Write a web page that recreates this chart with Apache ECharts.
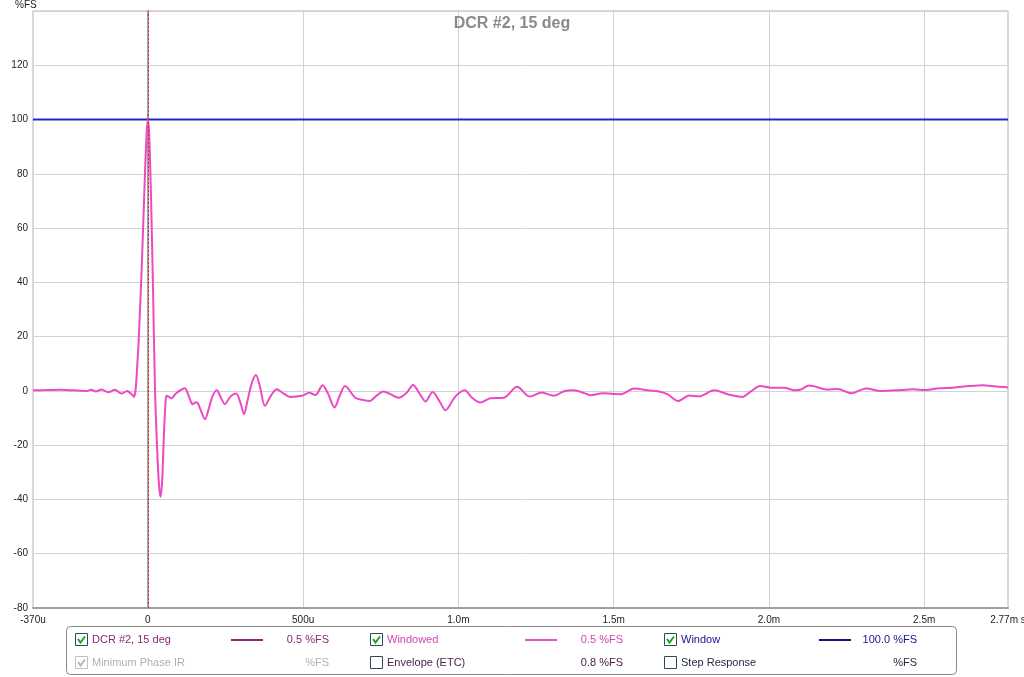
<!DOCTYPE html>
<html>
<head>
<meta charset="utf-8">
<script src="https://cdn.jsdelivr.net/npm/echarts@6/dist/echarts.min.js"></script>
<style>
html,body{margin:0;padding:0;background:#fff;}
#c{width:1024px;height:677px;}
</style>
</head>
<body>
<div id="c"></div>
<script>
// ---- data (time in microseconds, value in %FS) ----
var timeUs = [-370,-330,-284,-240,-198,-182,-168,-149,-128,-106,-85,-67,-50,-45,-40,-35,-30,-20,-10,-4,0,4,10,17,23,30,36,41,46,52,57,60,68,76,90,105,119,132,144,155,162,173,184,195,208,222,235,248,265,284,297,310,320,335,348,360,377,395,415,435,458,496,520,539,563,580,601,617,635,668,695,716,722,759,781,808,834,854,875,894,917,940,958,990,1020,1044,1071,1103,1146,1189,1230,1268,1307,1343,1372,1410,1426,1464,1523,1566,1609,1646,1673,1708,1743,1775,1824,1867,1915,1942,1972,2006,2049,2082,2103,2130,2189,2222,2265,2313,2361,2410,2464,2506,2549,2592,2646,2689,2732,2770];
var windowedFS = [0.25,0.3,0.4,0.2,0.0,0.4,-0.2,0.5,-0.5,0.4,-1.0,0.0,-1.5,-2.2,0,8,18,45,78,95,100,95,72,35,0,-22,-35,-39,-33,-15,-4,-1.8,-2.2,-2.7,-1,0.3,1.0,-2,-4.9,-4.2,-4.7,-8,-10.4,-7,-2,0.2,-2.5,-4.9,-2.2,-1.0,-4,-8.6,-4,3,5.9,2,-5.5,-2,0.6,-0.8,-2.2,-1.8,-0.7,-1.5,2.1,-1,-6.1,-2,1.8,-2.5,-3.4,-3.7,-3.2,-0.2,-1.2,-2.5,-0.6,2.2,-1,-3.9,-0.4,-4,-7.1,-2.1,0.2,-2.5,-4.3,-2.7,-2.5,1.5,-2.1,-0.6,-1.8,0,0.2,-1.0,-1.6,-0.9,-1.2,0.9,0.2,-0.2,-1.2,-3.7,-1.7,-2.0,0.2,-1.2,-2.2,-0.2,1.8,1.2,1.2,0.2,0.5,2.0,0.5,0.7,-0.9,0.9,0.0,0.2,0.6,0.3,1.0,1.2,1.8,2.1,1.6,1.3];
var windowTime = [-370, 2770];
var windowFS = [100, 100];
var xTickValues = [0, 500, 1000, 1500, 2000, 2500];
var xLabelValues = [-370, 0, 500, 1000, 1500, 2000, 2500, 2770];
var xLabelTexts = ['-370u', '0', '500u', '1.0m', '1.5m', '2.0m', '2.5m', '2.77m s'];
var titleText = 'DCR #2, 15 deg';
var yUnit = '%FS';

// legend table
var legendNames  = ['DCR #2, 15 deg', 'Windowed', 'Window', 'Minimum Phase IR', 'Envelope (ETC)', 'Step Response'];
var legendValues = ['0.5 %FS', '0.5 %FS', '100.0 %FS', '%FS', '0.8 %FS', '%FS'];
var legendChecked = [true, true, true, true, false, false];
var legendGreyed  = [false, false, false, true, false, false];
var legendTextColors = ['#8c2a74', '#d444b4', '#14148c', '#b0b0b0', '#4a2248', '#2a2a40'];
var legendLineColors = ['#8c2a74', '#e655c4', '#14148c', null, null, null];

var chart = echarts.init(document.getElementById('c'));

var windowedData = timeUs.map(function (t, i) { return [t, windowedFS[i]]; });
var windowData = windowTime.map(function (t, i) { return [t, windowFS[i]]; });

var FF = '"Liberation Sans", Arial, sans-serif';
var graphics = [];
graphics.push({
  type: 'text', x: 15, y: 0,
  style: { text: yUnit, font: '10px ' + FF, fill: '#222', verticalAlign: 'top', align: 'left' }
});
// legend frame
graphics.push({
  type: 'rect', shape: { x: 66.5, y: 626.5, width: 890, height: 48, r: 4 },
  style: { fill: '#fff', stroke: '#8a8a8a', lineWidth: 1 }, z: 10
});
var colX = [75, 370, 664];
var lineX = [231, 525, 819];
var valRight = [329, 623, 917];
var rowY = [640, 663];
var font = '11px ' + FF;
for (var i = 0; i < legendNames.length; i++) {
  var col = i % 3, row = Math.floor(i / 3);
  var cx = colX[col], cy = rowY[row];
  var grey = legendGreyed[i];
  graphics.push({
    type: 'rect', shape: { x: cx + 0.5, y: cy - 6.5, width: 12, height: 12 },
    style: { fill: '#fff', stroke: grey ? '#c0c0c0' : '#2e4a5a', lineWidth: 1 }, z: 11
  });
  if (legendChecked[i]) {
    graphics.push({
      type: 'polyline', shape: { points: [[cx + 3, cy - 1], [cx + 5.5, cy + 2.5], [cx + 10, cy - 3.5]] },
      style: { stroke: grey ? '#b8b8b8' : '#22a022', lineWidth: 2, fill: null }, z: 12
    });
  }
  graphics.push({
    type: 'text', x: cx + 17, y: cy,
    style: { text: legendNames[i], font: font, fill: legendTextColors[i], verticalAlign: 'middle', align: 'left' }, z: 11
  });
  if (legendLineColors[i]) {
    graphics.push({
      type: 'line', shape: { x1: lineX[col], y1: cy, x2: lineX[col] + 32, y2: cy },
      style: { stroke: legendLineColors[i], lineWidth: 2 }, z: 11
    });
  }
  graphics.push({
    type: 'text', x: valRight[col], y: cy,
    style: { text: legendValues[i], font: font, fill: legendTextColors[i], verticalAlign: 'middle', align: 'right' }, z: 11
  });
}

var option = {
  backgroundColor: '#fff',
  animation: false,
  title: {
    text: titleText, left: 'center', top: 11,
    textStyle: { color: '#8a8a8a', fontSize: 16, fontWeight: 'bold', fontFamily: FF }
  },
  grid: {
    left: 33, right: 16, top: 11, bottom: 69, show: true,
    outerBoundsMode: 'none', containLabel: false,
    borderColor: '#b4b4b4', borderWidth: 1, backgroundColor: '#fff'
  },
  xAxis: {
    type: 'value', min: -370, max: 2770,
    axisLine: { show: true, onZero: false, lineStyle: { color: '#a0a0a0', width: 2 } },
    axisTick: { show: false, customValues: xTickValues },
    splitLine: { show: true, lineStyle: { color: '#d2d2d2', width: 1 } },
    axisLabel: {
      customValues: xLabelValues, margin: 7, fontSize: 10, color: '#222', fontFamily: FF,
      formatter: function (v) {
        var k = xLabelValues.indexOf(v);
        return k >= 0 ? xLabelTexts[k] : '';
      }
    }
  },
  yAxis: {
    type: 'value', min: -80, max: 140, interval: 20,
    axisLine: { show: true, lineStyle: { color: '#a0a0a0', width: 2 } },
    axisTick: { show: false },
    splitLine: { show: true, lineStyle: { color: '#d2d2d2', width: 1 } },
    axisLabel: { margin: 5, fontSize: 10, color: '#222', showMaxLabel: false, fontFamily: FF }
  },
  series: [
    {
      name: 'Window', type: 'line', data: windowData, symbol: 'none',
      lineStyle: { color: '#2424c8', width: 2 }, z: 3
    },
    {
      name: 'Windowed', type: 'line', data: windowedData, symbol: 'none', smooth: 0.3,
      lineStyle: { color: '#ee48c2', width: 2 }, z: 4,
      markLine: {
        silent: true, symbol: ['none', 'none'], label: { show: false },
        lineStyle: { color: '#e02828', type: [2, 2], width: 1 },
        data: [{ xAxis: 0 }]
      }
    }
  ],
  graphic: graphics
};
chart.setOption(option);
</script>
</body>
</html>
